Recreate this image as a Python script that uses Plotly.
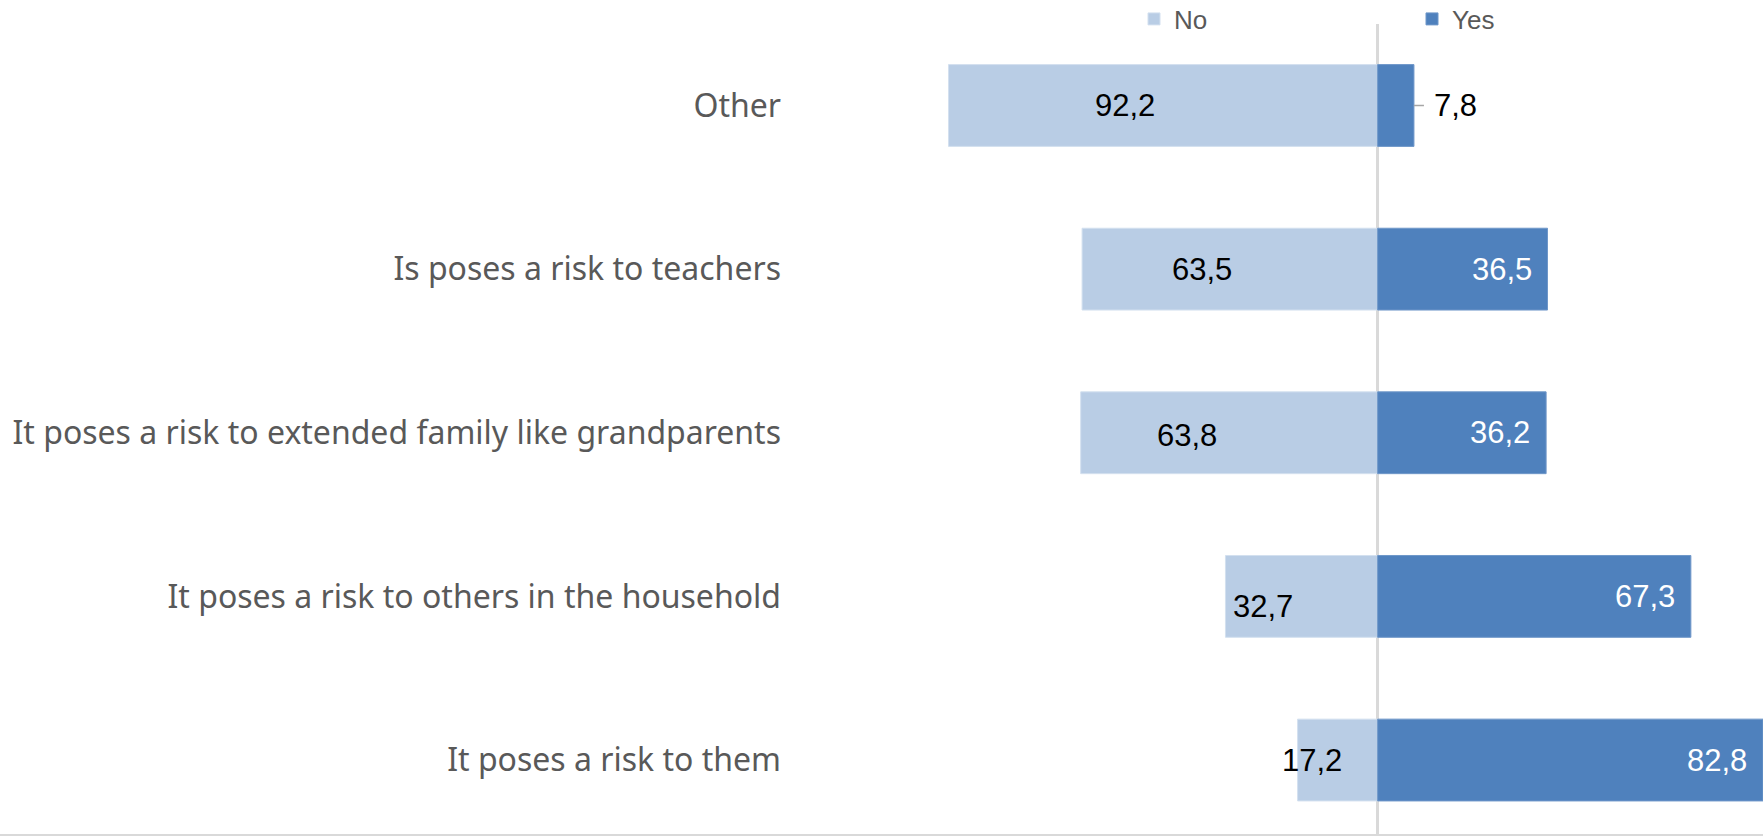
import plotly.graph_objects as go

# Survey reasons, bottom-to-top order on the category axis
categories = [
    "It poses a risk to them",
    "It poses a risk to others in the household",
    "It poses a risk to extended family like grandparents",
    "Is poses a risk to teachers",
    "Other",
]
no_values = [17.2, 32.7, 63.8, 63.5, 92.2]
yes_values = [82.8, 67.3, 36.2, 36.5, 7.8]

# Where each "No" value label sits along the value axis (label centres)
no_label_pos = [-14.0, -24.7, -41.0, -37.8, -54.3]
no_label_dy = [0, -10, -3, 0, 0]

NO_COLOR = "#B9CDE5"
YES_COLOR = "#4F81BD"
LABEL_FONT = "Arial, Liberation Sans, sans-serif"
CAT_FONT = "Noto Sans, Open Sans, sans-serif"

FIG_W, FIG_H = 1763, 838
PLOT_TOP = 24      # px from the top edge where the plot area starts
PLOT_BOTTOM = 4    # px margin below the plot area

fig = go.Figure()

fig.add_trace(go.Bar(
    name="No",
    y=categories,
    x=[-v for v in no_values],
    orientation="h",
    marker=dict(color=NO_COLOR, line=dict(color="#D3E0EF", width=1)),
    width=0.5,
    hoverinfo="skip",
))
fig.add_trace(go.Bar(
    name="Yes",
    y=categories,
    x=yes_values,
    orientation="h",
    marker=dict(color=YES_COLOR, line=dict(color="#6F97C9", width=1)),
    width=0.5,
    hoverinfo="skip",
))

annotations = []
for cat, val, pos, dy in zip(categories, no_values, no_label_pos, no_label_dy):
    annotations.append(dict(
        x=pos, y=cat, xref="x", yref="y", showarrow=False,
        text=f"{val:.1f}".replace(".", ","),
        font=dict(family=LABEL_FONT, size=31, color="#000000"),
        xanchor="center", yanchor="middle", yshift=dy,
    ))

for cat, val in zip(categories, yes_values):
    label = f"{val:.1f}".replace(".", ",")
    if val < 15:
        # too narrow for an inside label: place it outside with a leader line
        annotations.append(dict(
            x=val, y=cat, xref="x", yref="y", showarrow=True,
            arrowhead=0, arrowwidth=1.5, arrowcolor="#A6A6A6",
            ax=42, ay=0, startstandoff=9,
            text=label,
            font=dict(family=LABEL_FONT, size=31, color="#000000"),
        ))
    else:
        annotations.append(dict(
            x=val, y=cat, xref="x", yref="y", showarrow=False,
            text=label,
            font=dict(family=LABEL_FONT, size=31, color="#FFFFFF"),
            xanchor="right", yanchor="middle", xshift=-14,
        ))

paper_h = FIG_H - PLOT_BOTTOM
fig.update_layout(
    width=FIG_W,
    height=FIG_H,
    margin=dict(l=0, r=0, t=0, b=PLOT_BOTTOM, autoexpand=False),
    paper_bgcolor="white",
    plot_bgcolor="white",
    barmode="relative",
    showlegend=True,
    legend=dict(
        orientation="h",
        xref="paper", yref="paper",
        x=1134 / FIG_W, xanchor="left",
        y=1 - 19 / paper_h, yanchor="middle",
        font=dict(family=LABEL_FONT, size=26, color="#595959"),
        entrywidth=233, entrywidthmode="pixels",
        bgcolor="rgba(0,0,0,0)",
    ),
    xaxis=dict(
        range=[-296, 82.8],
        showgrid=False,
        showticklabels=False,
        ticks="",
        zeroline=True,
        zerolinecolor="#D9D9D9",
        zerolinewidth=3,
        showline=True,
        linecolor="#D9D9D9",
        linewidth=2,
        fixedrange=True,
    ),
    yaxis=dict(
        type="category",
        categoryorder="array",
        categoryarray=categories,
        range=[-0.452, 4.498],
        domain=[0, 1 - PLOT_TOP / paper_h],
        anchor="free",
        position=781 / FIG_W,
        showgrid=False,
        zeroline=False,
        showline=False,
        ticks="",
        ticklabelstandoff=0,
        tickfont=dict(family=CAT_FONT, size=32, color="#595959"),
        fixedrange=True,
    ),
    annotations=annotations,
)

fig.write_html("out.html")
